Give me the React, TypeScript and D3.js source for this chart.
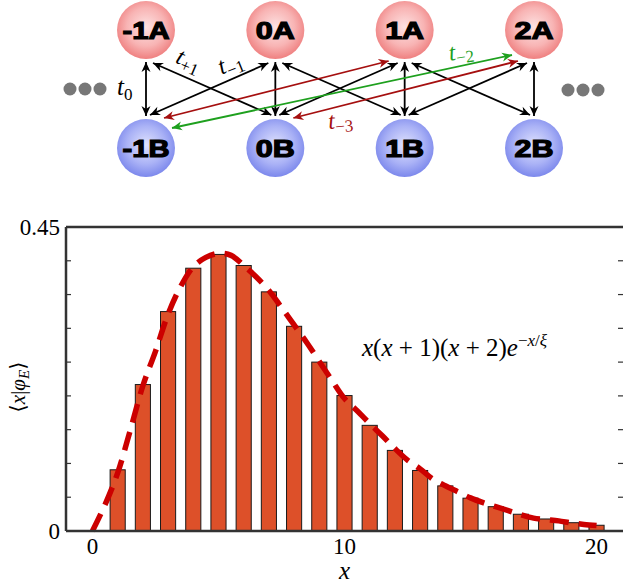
import React from "react";
import * as d3 from "d3";

// histogram bars (x = 1..20)
const barX = [1, 2, 3, 4, 5, 6, 7, 8, 9, 10, 11, 12, 13, 14, 15, 16, 17, 18, 19, 20];
const barY = [
  0.0906, 0.2168, 0.3248, 0.389, 0.4094, 0.393, 0.354, 0.303, 0.25, 0.2005,
  0.1564, 0.1193, 0.0896, 0.0668, 0.0486, 0.036, 0.0248, 0.0178, 0.0123, 0.0085,
];

// dashed fit curve
const curveX = [
  0, 0.5, 1, 1.5, 2, 2.5, 3, 3.5, 4, 4.5, 5, 5.5, 6, 6.5, 7, 7.5, 8, 8.5, 9, 9.5, 10,
  10.5, 11, 11.5, 12, 12.5, 13, 13.5, 14, 14.5, 15, 15.5, 16, 16.5, 17, 17.5, 18, 18.5,
  19, 19.5, 20,
];
const curveY = [
  0, 0.039, 0.086, 0.149, 0.215, 0.266, 0.321, 0.362, 0.391, 0.405, 0.411, 0.408, 0.393,
  0.376, 0.356, 0.331, 0.305, 0.279, 0.251, 0.223, 0.196, 0.178, 0.159, 0.141, 0.122,
  0.105, 0.092, 0.077, 0.067, 0.058, 0.049, 0.042, 0.036, 0.03, 0.024, 0.019, 0.017,
  0.015, 0.012, 0.0097, 0.008,
];

const xTickLabels = [0, 10, 20];
const yTicks = [0, 0.05, 0.1, 0.15, 0.2, 0.25, 0.3, 0.35, 0.4, 0.45];
const yTickLabels = [0, 0.45];

// lattice diagram
const sites = [-1, 0, 1, 2];
const hops = [
  { from: [-1, "B"], to: [1, "A"], color: "#a50f0f" },
  { from: [0, "B"], to: [2, "A"], color: "#a50f0f" },
  { from: [-1, "B"], to: [2, "A"], color: "#1ea01e" },
];

const W = 623;
const H = 585;
const serif = '"Liberation Serif", "Times New Roman", Times, "DejaVu Serif", serif';

export default function App() {
  const x = d3.scaleLinear().domain([-1.05, 21.05]).range([66, 623]);
  const y = d3.scaleLinear().domain([0, 0.45]).range([531, 227]);
  const bw = x(0.6) - x(0);

  const line = d3
    .line<number>()
    .x((_, i) => x(curveX[i]))
    .y((d) => y(d))
    .curve(d3.curveCatmullRom);

  const nx = d3.scaleLinear().domain([-1, 2]).range([146, 534]);
  const rowY: Record<string, number> = { A: 30, B: 148 };
  const r = 29;

  // black nearest-neighbour arrows
  const black: [number, number, number, number][] = [];
  sites.forEach((s) => black.push([nx(s), 62, nx(s), 116]));
  sites.slice(0, -1).forEach((s) => {
    black.push([nx(s) + 7, 63, nx(s + 1) - 4, 115]);
    black.push([nx(s + 1) - 7, 63, nx(s) + 4, 115]);
  });

  const hopEnds = (h: any) => {
    const [s0] = h.from;
    const [s1] = h.to;
    if (h.color === "#1ea01e") return [nx(s0) + 26, 128, nx(s1) - 22, 55];
    return [nx(s0) + 18, 118, nx(s1) - 16, 61];
  };

  const markerPath = "M0,0 L-10,-4.5 L-7,0 L-10,4.5 Z";
  const markers = [
    { id: "hk", color: "#000" },
    { id: "hr", color: "#a50f0f" },
    { id: "hg", color: "#1ea01e" },
  ];
  const mid = (c: string) => (c === "#000" ? "hk" : c === "#1ea01e" ? "hg" : "hr");

  return (
    <svg
      width={W}
      height={H}
      style={{ position: "absolute", left: 0, top: 0, background: "#fff" }}
    >
      <defs>
        <radialGradient id="gA" cx="50%" cy="45%" r="55%">
          <stop offset="0%" stopColor="#fde2e2" />
          <stop offset="60%" stopColor="#f8b4b4" />
          <stop offset="100%" stopColor="#ef8080" />
        </radialGradient>
        <radialGradient id="gB" cx="50%" cy="45%" r="55%">
          <stop offset="0%" stopColor="#dfe2fd" />
          <stop offset="60%" stopColor="#aab2f6" />
          <stop offset="100%" stopColor="#7c88ec" />
        </radialGradient>
        {markers.map((m) => (
          <marker
            key={m.id}
            id={m.id}
            viewBox="-11 -6 12 12"
            refX={0}
            refY={0}
            markerWidth={12}
            markerHeight={12}
            markerUnits="userSpaceOnUse"
            orient="auto-start-reverse"
          >
            <path d={markerPath} fill={m.color} />
          </marker>
        ))}
      </defs>

      {/* lattice nodes */}
      {sites.map((s) =>
        ["A", "B"].map((row) => {
          const label = `${s}${row}`;
          return (
            <g key={label}>
              <circle cx={nx(s)} cy={rowY[row]} r={r} fill={row === "A" ? "url(#gA)" : "url(#gB)"} />
              <text
                x={nx(s)}
                y={rowY[row] + 8.5}
                textAnchor="middle"
                style={{ fontFamily: '"Liberation Sans", Arial, sans-serif', fontWeight: "bold", fontSize: 24 }}
                stroke="#000"
                strokeWidth={1.2}
                textLength={s < 0 ? 47 : 39}
                lengthAdjust="spacingAndGlyphs"
              >
                {label}
              </text>
            </g>
          );
        })
      )}

      {/* arrows */}
      {black.map(([x1, y1, x2, y2], i) => (
        <line
          key={"k" + i}
          x1={x1}
          y1={y1}
          x2={x2}
          y2={y2}
          stroke="#000"
          strokeWidth={1.8}
          markerStart="url(#hk)"
          markerEnd="url(#hk)"
        />
      ))}
      {hops.map((h, i) => {
        const [x1, y1, x2, y2] = hopEnds(h);
        return (
          <line
            key={"h" + i}
            x1={x1}
            y1={y1}
            x2={x2}
            y2={y2}
            stroke={h.color}
            strokeWidth={1.8}
            markerStart={`url(#${mid(h.color)})`}
            markerEnd={`url(#${mid(h.color)})`}
          />
        );
      })}

      {/* dots */}
      {[70, 85, 100].map((cx) => (
        <circle key={"l" + cx} cx={cx} cy={89} r={6.5} fill="#777" />
      ))}
      {[568, 583, 598].map((cx) => (
        <circle key={"r" + cx} cx={cx} cy={90} r={6.5} fill="#777" />
      ))}

      {/* hopping labels */}
      <g style={{ fontFamily: serif, fontSize: 25 }}>
        <text x={117} y={95} fontStyle="italic">
          t<tspan fontStyle="normal" fontSize={17} dy={5}>0</tspan>
        </text>
        <text transform="translate(186,67) rotate(23)" textAnchor="middle" fontStyle="italic" fontSize={24}>
          t<tspan fontStyle="normal" fontSize={17} dy={5}>+1</tspan>
        </text>
        <text transform="translate(233,70) rotate(-22)" textAnchor="middle" fontStyle="italic" fontSize={24}>
          t<tspan fontStyle="normal" fontSize={17} dy={5}>−1</tspan>
        </text>
        <text transform="translate(462,59) rotate(-8)" textAnchor="middle" fontStyle="italic" fontSize={24} fill="#1ea01e">
          t<tspan fontStyle="normal" fontSize={17} dy={4}>−2</tspan>
        </text>
        <text transform="translate(341,128) rotate(-5)" textAnchor="middle" fontStyle="italic" fontSize={24} fill="#a50f0f">
          t<tspan fontStyle="normal" fontSize={17} dy={4}>−3</tspan>
        </text>
      </g>

      {/* bars */}
      {barX.map((v, i) => (
        <rect
          key={"b" + v}
          x={x(v) - bw / 2}
          y={y(barY[i])}
          width={bw}
          height={y(0) - y(barY[i])}
          fill="#dd5029"
          stroke="#1a1a1a"
          strokeWidth={1}
        />
      ))}

      {/* fit curve */}
      <path
        d={line(curveY) || ""}
        fill="none"
        stroke="#cc0000"
        strokeWidth={5.5}
        strokeDasharray="19 10"
      />

      {/* frame */}
      <g stroke="#333" strokeWidth={2.5} fill="none">
        <line x1={66} y1={y(0)} x2={W + 5} y2={y(0)} />
        <line x1={66} y1={y(0.45)} x2={W + 5} y2={y(0.45)} />
        <line x1={66} y1={y(0)} x2={66} y2={y(0.45)} />
      </g>
      {yTicks.map((t) => (
        <g key={"t" + t} stroke="#333" strokeWidth={1.2}>
          <line x1={66} x2={71} y1={y(t)} y2={y(t)} />
          <line x1={618} x2={623} y1={y(t)} y2={y(t)} />
        </g>
      ))}

      {/* tick labels */}
      <g style={{ fontFamily: serif, fontSize: 23 }} fill="#000">
        {yTickLabels.map((t) => (
          <text key={"yl" + t} x={60} y={y(t) + 8} textAnchor="end">
            {String(t)}
          </text>
        ))}
        {xTickLabels.map((t) => (
          <text key={"xl" + t} x={x(t)} y={554} textAnchor="middle">
            {t}
          </text>
        ))}
        <text x={x(10)} y={579} textAnchor="middle" fontStyle="italic" fontSize={25}>
          x
        </text>
        <text transform="translate(25,387) rotate(-90)" textAnchor="middle" fontSize={21}>
          ⟨<tspan fontStyle="italic">x</tspan>|<tspan fontStyle="italic">φ</tspan>
          <tspan fontSize={15} dy={4} fontStyle="italic">E</tspan>
          <tspan dy={-4}>⟩</tspan>
        </text>
        <text x={362} y={356} fontSize={25}>
          <tspan fontStyle="italic">x</tspan>(<tspan fontStyle="italic">x</tspan> + 1)(<tspan fontStyle="italic">x</tspan> + 2)<tspan fontStyle="italic">e</tspan>
          <tspan fontSize={17} dy={-10}>−</tspan>
          <tspan fontSize={17} fontStyle="italic">x</tspan>
          <tspan fontSize={17}>/</tspan>
          <tspan fontSize={17} fontStyle="italic">ξ</tspan>
        </text>
      </g>
    </svg>
  );
}
